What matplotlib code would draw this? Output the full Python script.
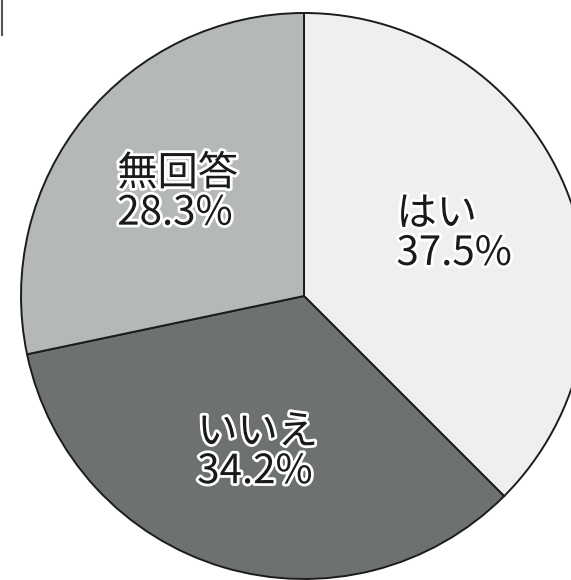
import numpy as np
import matplotlib.pyplot as plt
import matplotlib.patheffects as pe

plt.rcParams['font.family'] = ['Noto Sans CJK JP', 'DejaVu Sans']

# survey answers, clockwise from 12 o'clock
answers = ['はい', 'いいえ', '無回答']
shares = [37.5, 34.2, 28.3]
fills = ['#efefef', '#6d726f', '#b4b8b6']

W, H = 571, 580
fig = plt.figure(figsize=(W / 100, H / 100), dpi=100)
ax = fig.add_axes([0, 0, 1, 1])

cx, cy, r = 304, H - 296, 283
wedges, _ = ax.pie(shares, colors=fills, startangle=90, counterclock=False,
                   center=(cx, cy), radius=r,
                   wedgeprops=dict(edgecolor='#1c1c1c', linewidth=1.4))

ax.set_xlim(0, W)
ax.set_ylim(0, H)
ax.set_aspect('equal')
ax.axis('off')

# labels placed inside each slice at its mid angle
start = 90.0
for name, val in zip(answers, shares):
    sweep = val / 100 * 360
    mid = np.deg2rad(start - sweep / 2)
    start -= sweep
    lx = cx + 0.575 * r * np.cos(mid)
    ly = cy + 0.575 * r * np.sin(mid)
    ax.text(lx, ly, f'{name}\n{val:.1f}%', ha='center', va='center',
            multialignment='left', fontsize=29, color='#1a1a1a',
            linespacing=0.95,
            path_effects=[pe.withStroke(linewidth=4, foreground='white')])

# scrap of frame at the top-left corner
fig.add_artist(plt.Line2D([2 / W, 2 / W], [1, 1 - 35 / H], color='#555555', lw=1.5))

fig.savefig('out.png', dpi=100)
